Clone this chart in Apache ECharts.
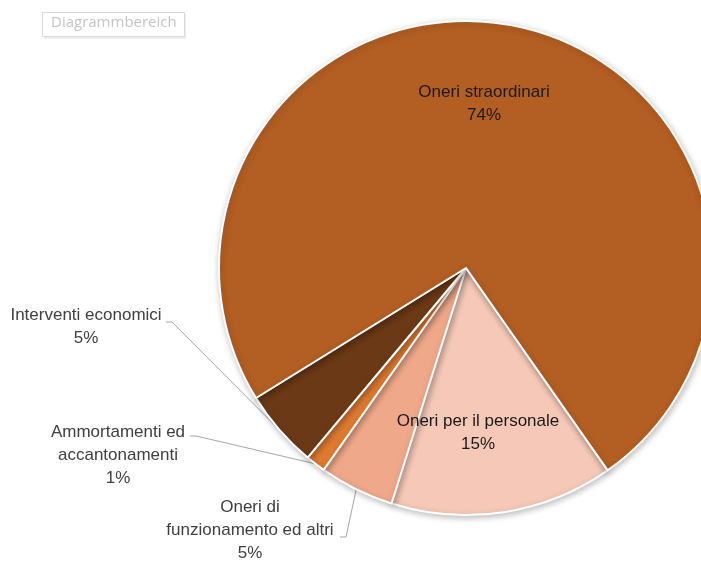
<!DOCTYPE html>
<html>
<head>
<meta charset="utf-8">
<script src="https://cdn.jsdelivr.net/npm/echarts@6/dist/echarts.min.js"></script>
<style>
html,body{margin:0;padding:0;background:#fff;}
#chart{width:701px;height:563px;}
</style>
</head>
<body>
<div id="chart"></div>
<script>
var categories = ["Oneri per il personale", "Oneri di funzionamento ed altri", "Ammortamenti ed accantonamenti", "Interventi economici", "Oneri straordinari"];
var values = [14.6, 4.9, 1.3, 5.1, 74.1];
var colors = ["#F5C8B7", "#F0A88A", "#E07A30", "#6B3915", "#B35E22"];
var labelTexts = ["Oneri per il personale", "Oneri di\nfunzionamento ed altri", "Ammortamenti ed\naccantonamenti", "Interventi economici", "Oneri straordinari"];

var chart = echarts.init(document.getElementById('chart'));

// label placement (layout only)
var outsideLayout = {
  1: {x: 250, y: 530, anchor: [340, 537]},
  2: {x: 118, y: 455, anchor: [190, 436]},
  3: {x: 86, y: 327, anchor: [166, 322]}
};

var data = categories.map(function (c, i) {
  var inside = (i === 0 || i === 4);
  return {
    name: c,
    value: values[i],
    itemStyle: {color: colors[i]},
    label: {
      position: inside ? 'inside' : 'outside',
      color: inside ? '#1a1a1a' : '#404040'
    },
    labelLine: {show: !inside}
  };
});

chart.setOption({
  animation: false,
  backgroundColor: '#ffffff',
  graphic: [
    {type: 'rect', left: 44, top: 15, shape: {width: 142, height: 24},
     style: {fill: '#ececec'}, z: 1},
    {type: 'rect', left: 42, top: 12, shape: {width: 142, height: 24},
     style: {fill: '#ffffff', stroke: '#d9d9d9', lineWidth: 1}, z: 2},
    {type: 'text', left: 51, top: 15, z: 3,
     style: {text: 'Diagrammbereich', fill: '#c4c4c4', font: '15px "Open Sans", "DejaVu Sans", sans-serif'}}
  ],
  series: [{
    type: 'pie',
    center: [466, 268],
    radius: 247,
    startAngle: -55,
    clockwise: true,
    avoidLabelOverlap: false,
    minAngle: 0,
    itemStyle: {
      borderColor: '#ffffff',
      borderWidth: 2,
      shadowColor: 'rgba(0,0,0,0.25)',
      shadowBlur: 6,
      shadowOffsetX: 1,
      shadowOffsetY: 2
    },
    label: {
      show: true,
      fontFamily: '"Liberation Sans", Arial, sans-serif',
      fontSize: 17,
      lineHeight: 23,
      align: 'center',
      formatter: function (p) {
        return labelTexts[p.dataIndex] + '\n' + Math.round(p.percent) + '%';
      }
    },
    labelLine: {
      lineStyle: {color: '#a6a6a6', width: 1},
      length: 10, length2: 10
    },
    labelLayout: function (p) {
      var i = p.dataIndex;
      if (i === 4) {
        return {x: 484, y: 104, align: 'center', verticalAlign: 'middle'};
      }
      if (i === 0) {
        return {x: 478, y: 433, align: 'center', verticalAlign: 'middle'};
      }
      var L = outsideLayout[i];
      var edge = p.labelLinePoints ? p.labelLinePoints[0] : L.anchor;
      return {
        x: L.x, y: L.y, align: 'center', verticalAlign: 'middle',
        labelLinePoints: [edge, [L.anchor[0] + 6, L.anchor[1]], L.anchor]
      };
    },
    data: data
  }]
});
</script>
</body>
</html>
